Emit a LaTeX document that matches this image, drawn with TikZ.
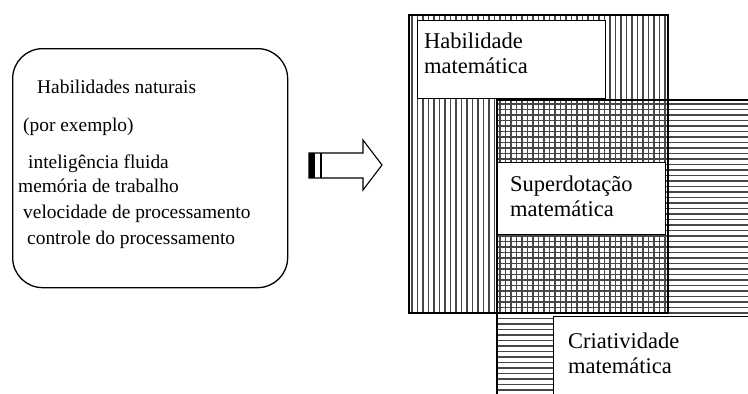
\documentclass[tikz,border=0pt]{standalone}
\usepackage{fontspec}
\setmainfont{Liberation Serif}
\begin{document}
\begin{tikzpicture}[x=1pt,y=-1pt,
  hatch/.style={line width=1.3pt,black!72},
  frame/.style={line width=1.6pt,black},
  lefttext/.style={anchor=base west,inner sep=0pt,font=\fontsize{19.4}{24}\selectfont},
  whitebox/.style={draw=black,line width=1.4pt,fill=white},
  boxtext/.style={anchor=north west,inner sep=0pt,align=left,font=\fontsize{22.5}{25}\selectfont}]
\useasboundingbox (0,0) rectangle (748,394);
% left rounded box
\node[draw=black,line width=1.3pt,rounded corners=30pt,minimum width=275pt,minimum height=239pt,anchor=north west] (nat) at (12,48) {};
\node[lefttext] (t1) at (37,93) {Habilidades naturais};
\node[lefttext] (t2) at (23,131) {(por exemplo)};
\node[lefttext] (t3) at (28,168) {inteligência fluida};
\node[lefttext] (t4) at (18,192) {memória de trabalho};
\node[lefttext] (t5) at (23,218) {velocidade de processamento};
\node[lefttext] (t6) at (27,244) {controle do processamento};
% arrow
\draw[line width=1.1pt,line join=miter] (309,153) -- (363,153) -- (363,140) -- (382,165) -- (363,190) -- (363,178) -- (309,178) -- cycle;
\fill[black] (309,153) rectangle (315,178);
\draw[line width=1.3pt] (321,153) -- (321,178);
% horizontal hatch region
\begin{scope}
\clip (497,100) rectangle (760,400);
\foreach \y in {104,109.5,...,400} \draw[hatch] (497,\y) -- (760,\y);
\end{scope}
% vertical hatch region
\begin{scope}
\clip (409,15) rectangle (668,313);
\foreach \x in {412,417.5,...,668} \draw[hatch] (\x,15) -- (\x,313);
\end{scope}
\draw[frame] (409,15) rectangle (668,313);
\draw[frame] (497,394) -- (497,100) -- (760,100);
\draw[frame] (497,313) -- (668,313);
% white boxes
\node[whitebox,minimum width=188pt,minimum height=78pt,anchor=north west] (hab) at (417,20) {};
\node[boxtext] at (424,33) {Habilidade\\matemática};
\node[whitebox,minimum width=168pt,minimum height=72pt,anchor=north west] (sup) at (497,162) {};
\node[boxtext] at (510,176) {Superdotação\\matemática};
\node[whitebox,minimum width=220pt,minimum height=90pt,anchor=north west] (cri) at (553,316) {};
\node[boxtext] at (568,333) {Criatividade\\matemática};
\end{tikzpicture}
\end{document}
